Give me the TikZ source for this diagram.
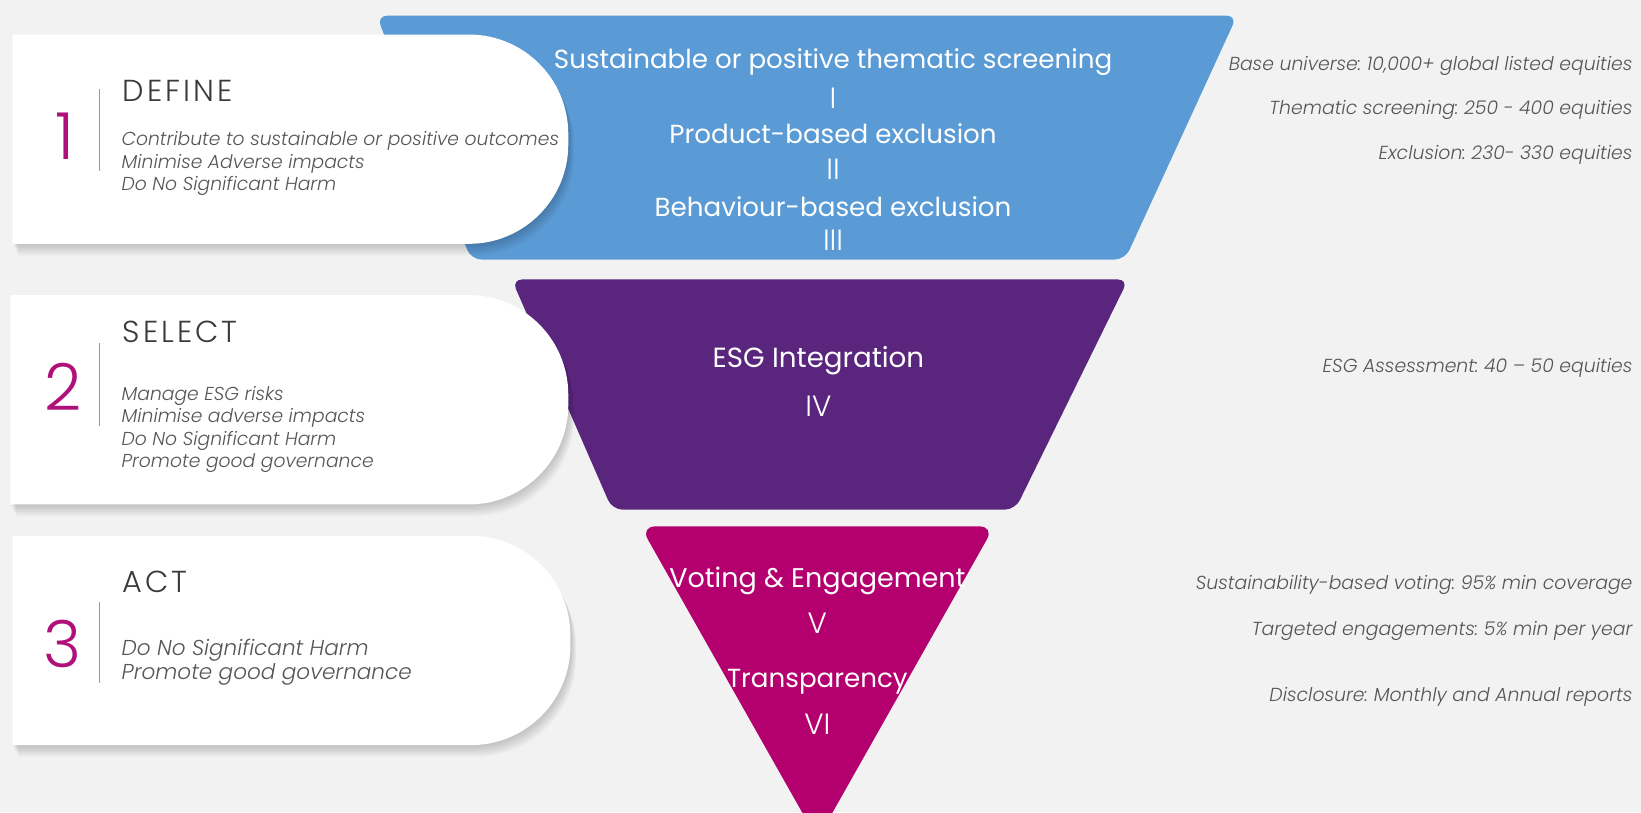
\documentclass[tikz,border=0pt]{standalone}
\usepackage{fontspec}
\setmainfont{Poppins}
\newfontfamily\funfont{Poppins}
\newfontfamily\thinfont{Poppins Light}
\frenchspacing
\definecolor{bg}{HTML}{F2F2F2}
\definecolor{fblue}{HTML}{5B9BD5}
\definecolor{fpurple}{HTML}{59257D}
\definecolor{fmag}{HTML}{B4006F}
\definecolor{numcol}{HTML}{B0107A}
\definecolor{linecol}{HTML}{A98AC2}
\definecolor{titlegray}{HTML}{3A3A3A}
\definecolor{itemgray}{HTML}{555555}
\newcommand\wboxpath[4]{(#1,#4) -- (#1,#3) -- ({#2-95},#3) arc(90:0:95) -- (#2,{#4+95}) arc(0:-90:95) -- cycle}
\newcommand\wboxdraw[4]{%
  \foreach \i in {1,...,8}{\fill[black,opacity=0.024,shift={(0.7*\i,-1.4*\i)}] \wboxpath{#1}{#2}{#3}{#4};}
  \fill[white] \wboxpath{#1}{#2}{#3}{#4};}
\tikzset{
  funtext/.style={text=white,font=\funfont\fontsize{25}{30}\selectfont,inner sep=0pt},
  romantext/.style={text=white,font=\thinfont\fontsize{28}{30}\selectfont,inner sep=0pt},
  titletext/.style={anchor=base west,text=titlegray,font=\thinfont\fontsize{29}{30}\selectfont\addfontfeature{LetterSpace=10},inner sep=0pt},
  itemtext/.style={anchor=base west,text=itemgray,font=\thinfont\itshape\fontsize{17.9}{20}\selectfont,inner sep=0pt},
  itembig/.style={anchor=base west,text=itemgray,font=\thinfont\itshape\fontsize{20.6}{22}\selectfont,inner sep=0pt},
  numtext/.style={text=numcol,font=\thinfont\fontsize{62}{70}\selectfont,inner sep=0pt},
  notetext/.style={anchor=base east,text=itemgray,font=\thinfont\itshape\fontsize{18}{20}\selectfont,inner sep=0pt},
  sepline/.style={draw=linecol,line width=1.4pt}
}
\begin{document}
\begin{tikzpicture}[x=1pt,y=1pt]
\useasboundingbox (0,0) rectangle (1568,776);
\fill[bg] (0,0) rectangle (1568,776);

% blue funnel
\fill[fblue,rounded corners=10pt] (360,761) -- (1182,761) -- (1075,528) -- (450,528) -- cycle;
% box 1
\wboxdraw{12}{543}{743}{543}
% purple funnel
\fill[fpurple,rounded corners=10pt] (489,509) -- (1078,509) -- (970,289) -- (585,289) -- cycle;
% box 2
\wboxdraw{10}{543}{494}{294}
% magenta triangle
\fill[fmag,rounded corners=14pt] (612,273) -- (950,273) -- (781,-26) -- cycle;
% box 3
\wboxdraw{12}{545}{264}{64}

% box 1 content
\node[numtext] (n1) at (62,646) {1};
\draw[sepline] (95,691) -- (95,613);
\node[titletext] (t1) at (117,679) {DEFINE};
\node[itemtext] (a1) at (116,637) {Contribute to sustainable or positive outcomes};
\node[itemtext] (a2) at (116,615) {Minimise Adverse impacts};
\node[itemtext] (a3) at (116,594) {Do No Significant Harm};

% box 2 content
\node[numtext] (n2) at (60,406) {2};
\draw[sepline] (95,448) -- (95,369);
\node[titletext] (t2) at (117,449) {SELECT};
\node[itemtext] (b1) at (116,393) {Manage ESG risks};
\node[itemtext] (b2) at (116,372) {Minimise adverse impacts};
\node[itemtext] (b3) at (116,350) {Do No Significant Harm};
\node[itemtext] (b4) at (116,329) {Promote good governance};

% box 3 content
\node[numtext] (n3) at (60,161) {3};
\draw[sepline] (95,201) -- (95,123);
\node[titletext] (t3) at (117,210) {ACT};
\node[itembig] (c1) at (116,150) {Do No Significant Harm};
\node[itembig] (c2) at (116,127) {Promote good governance};

% blue funnel text
\node[funtext] (s1) at (796,717) {Sustainable or positive thematic screening};
\node[romantext] (r1) at (796,682) {I};
\node[funtext] (s2) at (796,648) {Product-based exclusion};
\node[romantext] (r2) at (796,614) {II};
\node[funtext] (s3) at (796,579) {Behaviour-based exclusion};
\node[romantext] (r3) at (796,546) {III};

% purple text
\node[funtext,font=\funfont\fontsize{26.5}{30}\selectfont] (s4) at (782,431) {ESG Integration};
\node[romantext] (r4) at (782,388) {IV};

% magenta text
\node[funtext,font=\funfont\fontsize{25.8}{30}\selectfont] (s5) at (781,221) {Voting \& Engagement};
\node[romantext] (r5) at (781,180) {V};
\node[funtext] (s6) at (781,125) {Transparency};
\node[romantext] (r6) at (781,84) {VI};

% right notes
\node[notetext] (m1) at (1560,709) {Base universe: 10,000+ global listed equities};
\node[notetext] (m2) at (1560,667) {Thematic screening: 250 - 400 equities};
\node[notetext] (m3) at (1560,624) {Exclusion: 230- 330 equities};
\node[notetext] (m4) at (1560,420) {ESG Assessment: 40 – 50 equities};
\node[notetext] (m5) at (1560,213) {Sustainability-based voting: 95\% min coverage};
\node[notetext] (m6) at (1560,169) {Targeted engagements: 5\% min per year};
\node[notetext] (m7) at (1560,106) {Disclosure: Monthly and Annual reports};
\end{tikzpicture}
\end{document}
